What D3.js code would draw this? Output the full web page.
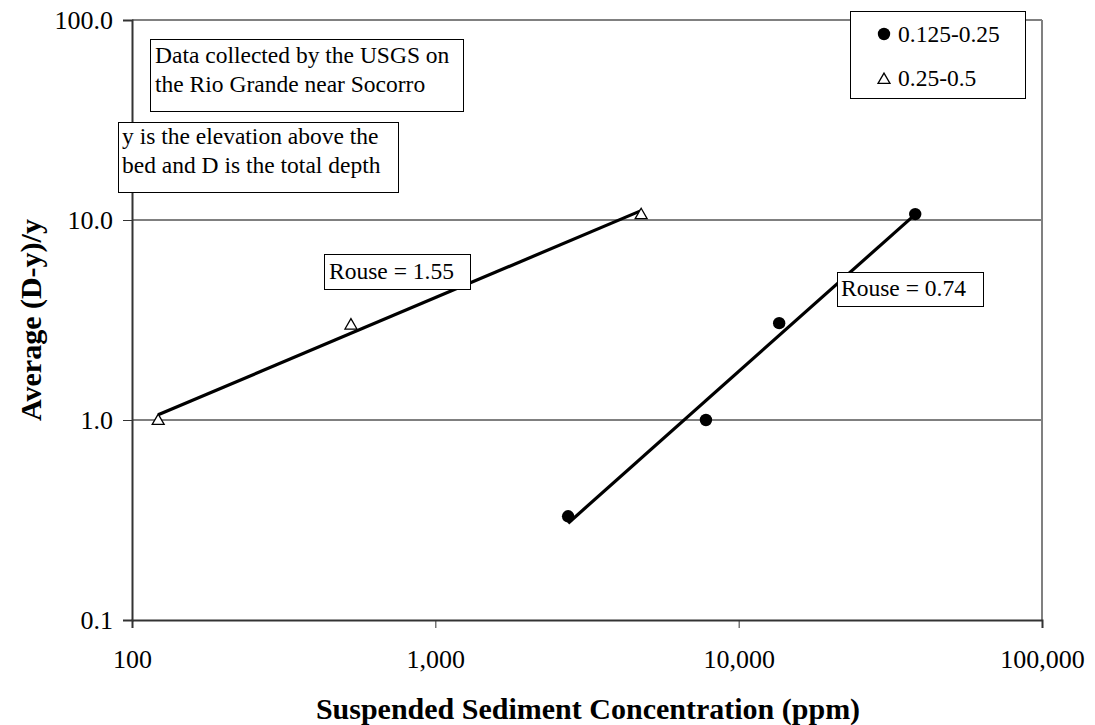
<!DOCTYPE html>
<html>
<head>
<meta charset="utf-8">
<script src="https://cdn.jsdelivr.net/npm/d3@7"></script>
<style>
  html, body { margin: 0; padding: 0; background: #fff; }
  svg { display: block; }
  svg text { font-family: "Liberation Serif", Tinos, "Times New Roman", Times, serif; fill: #000; }
</style>
</head>
<body>
<svg id="chart" width="1095" height="725"></svg>
<script>
// ---- data ----
const seriesNames = ["0.125-0.25", "0.25-0.5"];
const fineConc = [2740, 7800, 13600, 38200];      // 0.125-0.25
const fineRatio = [0.33, 1.0, 3.05, 10.7];
const coarseConc = [122, 527, 4770];              // 0.25-0.5
const coarseRatio = [1.0, 3.0, 10.7];
const xTicks = [100, 1000, 10000, 100000];
const yTicks = [0.1, 1, 10, 100];
const xTitle = "Suspended Sediment Concentration (ppm)";
const yTitle = "Average (D-y)/y";
const note1 = ["Data collected by the USGS on", "the Rio Grande near Socorro"];
const note2 = ["y is the elevation above the", "bed and D is the total depth"];
const rouseLabels = ["Rouse = 0.74", "Rouse = 1.55"];

// ---- layout ----
const FONT = '"Liberation Serif", Tinos, "Times New Roman", Times, serif';
const L = 132, R = 1042, T = 20, B = 620;
const svg = d3.select("#chart");
const x = d3.scaleLog().domain([100, 100000]).range([L, R]);
const y = d3.scaleLog().domain([0.1, 100]).range([B, T]);

// gridlines
svg.append("g").selectAll("line").data(yTicks.filter(v => v > 0.1 && v < 100)).join("line")
  .attr("x1", L).attr("x2", R).attr("y1", d => y(d)).attr("y2", d => y(d))
  .attr("stroke", "#000").attr("stroke-width", 1);

// plot border top/right (gray)
svg.append("line").attr("x1", L).attr("x2", R).attr("y1", y(100)).attr("y2", y(100))
  .attr("stroke", "#808080").attr("stroke-width", 2);
svg.append("line").attr("x1", R).attr("x2", R).attr("y1", T).attr("y2", B)
  .attr("stroke", "#808080").attr("stroke-width", 2);

// axes
const fmtX = d3.format(",");
const xAxis = d3.axisBottom(x).tickValues(xTicks).tickFormat(d => fmtX(d)).tickSize(8).tickPadding(22);
const gx = svg.append("g").attr("transform", `translate(0,${B})`).call(xAxis).attr("font-family", FONT);
gx.select(".domain").attr("stroke", "#333").attr("stroke-width", 2);
gx.selectAll(".tick line").attr("stroke", "#333").attr("stroke-width", 1);
gx.selectAll(".tick text").attr("font-size", 26).style("font-family", FONT);

const yAxis = d3.axisLeft(y).tickValues(yTicks).tickFormat(d3.format(".1f")).tickSize(9).tickPadding(10);
const gy = svg.append("g").attr("transform", `translate(${L},0)`).call(yAxis).attr("font-family", FONT);
gy.select(".domain").attr("stroke", "#333").attr("stroke-width", 2);
gy.selectAll(".tick line").attr("stroke", "#333").attr("stroke-width", 1);
gy.selectAll(".tick text").attr("font-size", 26).style("font-family", FONT);

// axis titles
svg.append("text").attr("x", 588).attr("y", 719).attr("text-anchor", "middle")
  .style("font-family", FONT).attr("font-size", 30).attr("font-weight", "bold").text(xTitle);
svg.append("text").attr("transform", `translate(41,320) rotate(-90)`).attr("text-anchor", "middle")
  .style("font-family", FONT).attr("font-size", 30).attr("font-weight", "bold").text(yTitle);

// power trendline fit in log space
function powerFit(xs, ys) {
  const lx = xs.map(Math.log10), ly = ys.map(Math.log10);
  const mx = d3.mean(lx), my = d3.mean(ly);
  const b = d3.sum(lx, (v, i) => (v - mx) * (ly[i] - my)) / d3.sum(lx, v => (v - mx) ** 2);
  const a = my - b * mx;
  const x0 = d3.min(xs), x1 = d3.max(xs);
  return [[x0, 10 ** (a + b * Math.log10(x0))], [x1, 10 ** (a + b * Math.log10(x1))]];
}
const line = d3.line().x(d => x(d[0])).y(d => y(d[1]));
[[fineConc, fineRatio], [coarseConc, coarseRatio]].forEach(([xs, ys]) => {
  svg.append("path").attr("d", line(powerFit(xs, ys)))
    .attr("fill", "none").attr("stroke", "#000").attr("stroke-width", 3.2);
});

// markers
const tri = d3.symbol().type(d3.symbolTriangle).size(62);
svg.append("g").selectAll("circle").data(fineConc.map((c, i) => [c, fineRatio[i]])).join("circle")
  .attr("cx", d => x(d[0])).attr("cy", d => y(d[1])).attr("r", 6.2).attr("fill", "#000");
svg.append("g").selectAll("path").data(coarseConc.map((c, i) => [c, coarseRatio[i]])).join("path")
  .attr("d", tri).attr("transform", d => `translate(${x(d[0])},${y(d[1]) + 1})`)
  .attr("fill", "#fff").attr("stroke", "#000").attr("stroke-width", 1.3);

// text boxes
function textBox(x0, y0, w, h, lines, tx, ty, lh, fs) {
  const g = svg.append("g");
  g.append("rect").attr("x", x0 + 0.5).attr("y", y0 + 0.5).attr("width", w).attr("height", h)
    .attr("fill", "#fff").attr("stroke", "#000").attr("stroke-width", 1);
  lines.forEach((t, i) => g.append("text").attr("x", tx).attr("y", ty + i * lh)
    .style("font-family", FONT).attr("font-size", fs).text(t));
}
textBox(150, 39, 313, 72, note1, 155, 63, 29, 23.5);
textBox(118, 122, 280, 70, note2, 122, 144, 29, 23.5);
textBox(324, 254, 146, 35, [rouseLabels[1]], 329, 279, 0, 23.5);
textBox(837, 272, 146, 34, [rouseLabels[0]], 841, 296, 0, 23.5);

// legend
const lg = svg.append("g");
lg.append("rect").attr("x", 850.5).attr("y", 11.5).attr("width", 175).attr("height", 87)
  .attr("fill", "#fff").attr("stroke", "#000").attr("stroke-width", 1);
lg.append("circle").attr("cx", 884).attr("cy", 34).attr("r", 6.2).attr("fill", "#000");
lg.append("path").attr("d", tri).attr("transform", "translate(884,80)")
  .attr("fill", "#fff").attr("stroke", "#000").attr("stroke-width", 1.3);
lg.append("text").attr("x", 898).attr("y", 42).style("font-family", FONT).attr("font-size", 23.5).text(seriesNames[0]);
lg.append("text").attr("x", 898).attr("y", 86).style("font-family", FONT).attr("font-size", 23.5).text(seriesNames[1]);
</script>
</body>
</html>
